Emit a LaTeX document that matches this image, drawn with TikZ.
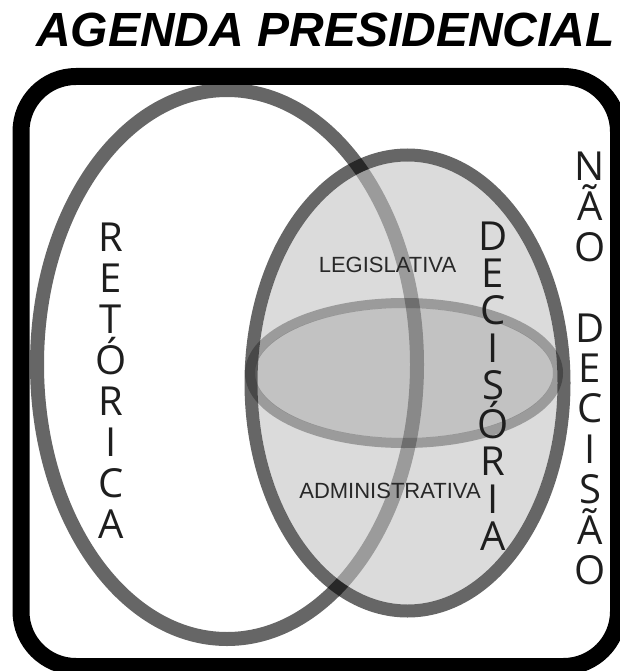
\documentclass[tikz,border=0pt]{standalone}
\usepackage{fontspec}
\newfontfamily\arialfont{Liberation Sans}
\newfontfamily\lettersfont{Open Sans}
\begin{document}
\begin{tikzpicture}[x=1pt,y=-1pt,
  frame/.style={draw=black,line width=17pt,rounded corners=55pt},
  ring/.style={draw=black,draw opacity=0.6,line width=14pt},
  areafill/.style={fill={rgb,255:red,194;green,194;blue,194},fill opacity=0.575},
  innerfill/.style={fill=black,fill opacity=0.11},
  innerring/.style={draw=black,draw opacity=0.29,line width=10pt},
  title/.style={font=\arialfont\fontsize{48}{48}\selectfont\bfseries\itshape,inner sep=0pt},
  vletters/.style={font=\lettersfont\fontsize{40}{#1}\selectfont,align=center,inner sep=0pt,text={rgb,255:red,30;green,30;blue,30}},
  label/.style={font=\arialfont\fontsize{22}{22}\selectfont,inner sep=0pt,text={rgb,255:red,40;green,40;blue,40}}
]
\useasboundingbox (0,0) rectangle (619,671);
\fill[white] (0,0) rectangle (619,671);

% outer frame
\draw[frame] (21,76.5) rectangle (618.5,666.5);

% rhetoric set
\draw[ring] (227,364.5) ellipse [x radius=190pt, y radius=274.5pt];

% decision set: fills stop at the inner edge of their outlines
\fill[areafill] (407.5,383) ellipse [x radius=150pt, y radius=221.5pt];
\fill[innerfill] (404,373) ellipse [x radius=149pt, y radius=65pt];
\draw[ring,line width=13pt] (407.5,383) ellipse [x radius=156.5pt, y radius=228pt];
\draw[innerring] (404,373) ellipse [x radius=154pt, y radius=70pt];

% texts
\node[title] (title) at (325.5,29.5) {AGENDA PRESIDENCIAL};
\node[vletters=41] (retorica) at (111,381) {R\\E\\T\\Ó\\R\\I\\C\\A};
\node[vletters=37.4] (decisoria) at (493,386) {D\\E\\C\\I\\S\\Ó\\R\\I\\A};
\node[vletters=40.4] (naodecisao) at (590,368.5) {N\\Ã\\O\\[40.4pt]D\\E\\C\\I\\S\\Ã\\O};
\node[label] (legislativa) at (387.5,264.7) {LEGISLATIVA};
\node[label] (administrativa) at (390,490.5) {ADMINISTRATIVA};
\end{tikzpicture}
\end{document}
